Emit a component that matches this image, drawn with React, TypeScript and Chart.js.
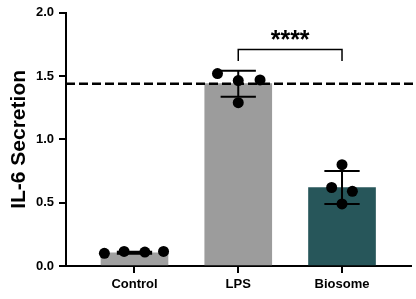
import { useEffect, useRef } from 'react';
import { Chart, registerables } from 'chart.js';

Chart.register(...registerables);

const categories = ['Control', 'LPS', 'Biosome'];
const barMeans = [0.105, 1.44, 0.62];
const barSD = [0.008, 0.103, 0.13];
const barColors = ['#a0a0a0', '#9c9c9c', '#27565a'];
const controlPoints = [0.1, 0.115, 0.11, 0.115];
const lpsPoints = [1.52, 1.465, 1.47, 1.29];
const biosomePoints = [0.8, 0.62, 0.59, 0.49];
const groupPoints = [controlPoints, lpsPoints, biosomePoints];
const jitter = [
  [-0.29, -0.1, 0.1, 0.28],
  [-0.2, 0, 0.21, 0],
  [0, -0.1, 0.1, 0],
];
const referenceLine = 1.44;
const bracketFrom = 1;
const bracketTo = 2;
const bracketValue = 1.71;
const bracketDrop = 0.09;
const significance = '****';
const yTicks = [0, 0.5, 1, 1.5, 2];

const FONT = 'Arial, "Liberation Sans", sans-serif';

export default function App() {
  const ref = useRef<HTMLCanvasElement | null>(null);

  useEffect(() => {
    if (!ref.current) return;
    const capHalf = 0.17;

    const overlay = {
      id: 'overlay',
      afterDatasetsDraw(chart: any) {
        const ctx = chart.ctx;
        const xs = chart.scales.x;
        const ys = chart.scales.y;
        ctx.save();
        ctx.strokeStyle = '#000';
        ctx.lineWidth = 2;
        barMeans.forEach((m, i) => {
          const sd = barSD[i];
          const cx = xs.getPixelForValue(i);
          const top = ys.getPixelForValue(m + sd);
          const bot = ys.getPixelForValue(m - sd);
          const l = xs.getPixelForValue(i - capHalf);
          const r = xs.getPixelForValue(i + capHalf);
          ctx.beginPath();
          ctx.moveTo(cx, top);
          ctx.lineTo(cx, bot);
          ctx.moveTo(l, top);
          ctx.lineTo(r, top);
          ctx.moveTo(l, bot);
          ctx.lineTo(r, bot);
          ctx.stroke();
        });
        const ry = ys.getPixelForValue(referenceLine);
        ctx.setLineDash([9, 4]);
        ctx.lineWidth = 2.5;
        ctx.beginPath();
        ctx.moveTo(chart.chartArea.left, ry);
        ctx.lineTo(chart.width, ry);
        ctx.stroke();
        ctx.setLineDash([]);
        const by = ys.getPixelForValue(bracketValue);
        const bd = ys.getPixelForValue(bracketValue - bracketDrop);
        const bx1 = xs.getPixelForValue(bracketFrom);
        const bx2 = xs.getPixelForValue(bracketTo);
        ctx.lineWidth = 1.5;
        ctx.beginPath();
        ctx.moveTo(bx1, bd);
        ctx.lineTo(bx1, by);
        ctx.lineTo(bx2, by);
        ctx.lineTo(bx2, bd);
        ctx.stroke();
        ctx.fillStyle = '#000';
        ctx.font = 'bold 25px ' + FONT;
        ctx.textAlign = 'center';
        ctx.textBaseline = 'alphabetic';
        ctx.fillText(significance, (bx1 + bx2) / 2, by - 2);
        ctx.restore();
      },
    };

    const pointData: { x: number; y: number }[] = [];
    groupPoints.forEach((pts, i) =>
      pts.forEach((v, j) => pointData.push({ x: i + jitter[i][j], y: v }))
    );

    const chart = new Chart(ref.current, {
      type: 'bar',
      data: {
        datasets: [
          {
            type: 'bar',
            data: barMeans.map((m, i) => ({ x: i, y: m })),
            backgroundColor: barColors,
            borderWidth: 0,
            barThickness: 67,
            order: 2,
          } as any,
          {
            type: 'scatter',
            data: pointData,
            backgroundColor: '#000',
            borderColor: '#000',
            borderWidth: 0,
            pointRadius: 5.5,
            showLine: false,
            order: 1,
          } as any,
        ],
      },
      options: {
        responsive: false,
        animation: false,
        layout: { padding: { top: 12, right: 3, left: 0, bottom: 0 } },
        plugins: { legend: { display: false }, tooltip: { enabled: false } },
        scales: {
          x: {
            type: 'linear',
            min: -0.66,
            max: 2.66,
            offset: false,
            afterBuildTicks: (s: any) => {
              s.ticks = categories.map((_, i) => ({ value: i }));
            },
            afterFit: (s: any) => {
              s.height = 33;
            },
            ticks: {
              callback: (v: any) => categories[Math.round(v)],
              color: '#000',
              font: { family: FONT, size: 13, weight: 'bold' },
              padding: 4,
              maxRotation: 0,
              autoSkip: false,
            },
            grid: {
              display: true,
              offset: false,
              drawOnChartArea: false,
              drawTicks: true,
              tickLength: 7,
              color: '#000',
              lineWidth: 2,
            },
            border: { display: true, color: '#000', width: 2 },
          },
          y: {
            type: 'linear',
            min: 0,
            max: 2,
            afterBuildTicks: (s: any) => {
              s.ticks = yTicks.map((v) => ({ value: v }));
            },
            afterFit: (s: any) => {
              s.width = 66;
            },
            ticks: {
              callback: (v: any) => Number(v).toFixed(1),
              color: '#000',
              font: { family: FONT, size: 13, weight: 'bold' },
              padding: 5,
            },
            grid: {
              display: true,
              drawOnChartArea: false,
              drawTicks: true,
              tickLength: 7,
              color: '#000',
              lineWidth: 2,
            },
            border: { display: true, color: '#000', width: 2 },
            title: {
              display: true,
              text: 'IL-6 Secretion',
              color: '#000',
              font: { family: FONT, size: 21, weight: 'bold' },
              padding: { top: 7, bottom: 0 },
            },
          },
        },
      } as any,
      plugins: [overlay],
    });
    return () => chart.destroy();
  }, []);

  return (
    <div style={{ position: 'absolute', left: 0, top: 0, width: 416, height: 299, background: '#fff' }}>
      <canvas ref={ref} width={416} height={299} style={{ display: 'block', width: 416, height: 299 }} />
    </div>
  );
}
